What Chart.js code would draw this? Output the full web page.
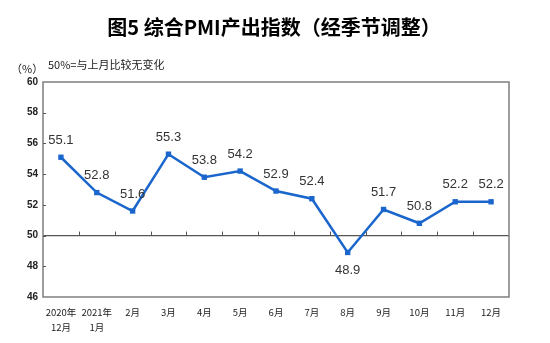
<!DOCTYPE html>
<html>
<head>
<meta charset="utf-8">
<script src="https://cdn.jsdelivr.net/npm/chart.js@4/dist/chart.umd.min.js"></script>
<style>
html,body{margin:0;padding:0;background:#fff;}
#wrap{position:relative;width:550px;height:343px;}
</style>
</head>
<body>
<div id="wrap"><canvas id="c" width="550" height="343"></canvas></div>
<script>
const title = '图5 综合PMI产出指数（经季节调整）';
const unitLabel = '（%）';
const note = '50%=与上月比较无变化';
const categories = [['2020年','12月'], ['2021年','1月'], '2月', '3月', '4月', '5月', '6月', '7月', '8月', '9月', '10月', '11月', '12月'];
const values = [55.1, 52.8, 51.6, 55.3, 53.8, 54.2, 52.9, 52.4, 48.9, 51.7, 50.8, 52.2, 52.2];
const yMin = 46, yMax = 60, yStep = 2, baseline = 50;

const cjk = '"Noto Sans CJK SC", "Liberation Sans", sans-serif';

const decor = {
  id: 'decor',
  beforeDraw(chart) {
    const ctx = chart.ctx;
    ctx.save();
    ctx.fillStyle = '#fff';
    ctx.fillRect(0, 0, chart.width, chart.height);
    ctx.restore();
  },
  afterDraw(chart) {
    const ctx = chart.ctx;
    const a = chart.chartArea;
    const xs = chart.scales.x, ys = chart.scales.y;
    ctx.save();
    // frame
    ctx.strokeStyle = '#7f7f7f';
    ctx.lineWidth = 1.5;
    ctx.strokeRect(a.left, a.top, a.right - a.left, a.bottom - a.top);
    // y tick marks (inward)
    ctx.strokeStyle = '#555';
    ctx.lineWidth = 1;
    for (let v = yMin + yStep; v < yMax; v += yStep) {
      const y = Math.round(ys.getPixelForValue(v)) + 0.5;
      ctx.beginPath(); ctx.moveTo(a.left, y); ctx.lineTo(a.left + 3, y); ctx.stroke();
    }
    // x tick marks at category boundaries on baseline
    const yb = ys.getPixelForValue(baseline);
    for (let i = 1; i < categories.length; i++) {
      const x = Math.round((xs.getPixelForValue(i - 1) + xs.getPixelForValue(i)) / 2) + 0.5;
      ctx.beginPath(); ctx.moveTo(x, yb); ctx.lineTo(x, yb - 4); ctx.stroke();
    }
    // title
    ctx.fillStyle = '#000';
    ctx.font = 'bold 20px ' + cjk;
    ctx.textAlign = 'center';
    ctx.textBaseline = 'middle';
    ctx.fillText(title, 274, 27);
    // unit and note
    ctx.font = '11px ' + cjk;
    ctx.fillStyle = '#222';
    ctx.textAlign = 'left';
    ctx.fillText(unitLabel, 11, 69);
    ctx.fillText(note, 48, 65);
    ctx.restore();
  },
  afterDatasetsDraw(chart) {
    const ctx = chart.ctx;
    const meta = chart.getDatasetMeta(0);
    ctx.save();
    ctx.font = '13px "Liberation Sans", Arial, sans-serif';
    ctx.fillStyle = '#333';
    ctx.textAlign = 'center';
    ctx.textBaseline = 'middle';
    meta.data.forEach((pt, i) => {
      const v = values[i];
      const below = v < baseline;
      ctx.fillText(v.toFixed(1), pt.x, pt.y + (below ? 18 : -17));
    });
    ctx.restore();
  }
};

new Chart(document.getElementById('c'), {
  type: 'line',
  data: {
    labels: categories,
    datasets: [{
      data: values,
      borderColor: '#1a66cc',
      backgroundColor: '#1a66cc',
      borderWidth: 2.5,
      pointStyle: 'rect',
      pointRadius: 3.8,
      pointBorderWidth: 0,
      tension: 0
    }]
  },
  options: {
    responsive: false,
    animation: false,
    devicePixelRatio: 1,
    layout: { padding: { top: 82, left: 0, right: 41, bottom: 0 } },
    plugins: { legend: { display: false }, title: { display: false }, tooltip: { enabled: false } },
    scales: {
      x: {
        offset: true,
        grid: { display: false, drawTicks: false },
        border: { display: false },
        ticks: {
          autoSkip: false, maxRotation: 0, minRotation: 0, padding: 8,
          color: '#222',
          font: { family: cjk, size: 9.5, lineHeight: 1.6 }
        },
        afterFit(s) { s.height = 46; }
      },
      y: {
        min: yMin, max: yMax,
        grid: {
          drawTicks: false,
          lineWidth: 1.2,
          color: ctx => (ctx.tick && ctx.tick.value === baseline) ? '#555' : 'rgba(0,0,0,0)'
        },
        border: { display: false },
        ticks: {
          stepSize: yStep, padding: 5, color: '#222',
          font: { family: '"Liberation Sans", Arial, sans-serif', size: 10, weight: 'bold' }
        },
        afterFit(s) { s.width = 43; }
      }
    }
  },
  plugins: [decor]
});
</script>
</body>
</html>
